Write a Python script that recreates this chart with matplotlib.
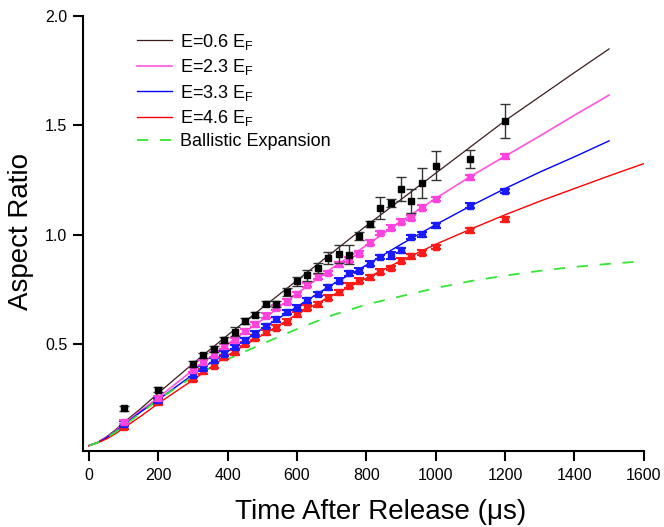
import matplotlib
matplotlib.use('Agg')
import matplotlib.pyplot as plt

plt.rcParams['font.family'] = ['Liberation Sans', 'DejaVu Sans']

# measured points (time in us, aspect ratio)
t_pts = [100, 200, 300, 330, 360, 390, 420, 450, 480, 510, 540, 570, 600, 630,
         660, 690, 720, 750, 780, 810, 840, 870, 900, 930, 960, 1000, 1100, 1200]

ar_06 = [0.205, 0.290, 0.408, 0.448, 0.477, 0.517, 0.556, 0.605, 0.634, 0.683,
         0.683, 0.737, 0.786, 0.813, 0.848, 0.894, 0.912, 0.908, 0.993, 1.049,
         1.121, 1.143, 1.208, 1.154, 1.236, 1.314, 1.345, 1.519]
err_06 = [0.012, 0.012, 0.015, 0.012, 0.012, 0.015, 0.020, 0.012, 0.012, 0.012,
          0.015, 0.018, 0.020, 0.025, 0.022, 0.027, 0.040, 0.043, 0.018, 0.014,
          0.049, 0.018, 0.055, 0.055, 0.068, 0.067, 0.042, 0.078]

ar_23 = [0.143, 0.251, 0.382, 0.416, 0.451, 0.489, 0.517, 0.558, 0.589, 0.628,
         0.666, 0.692, 0.728, 0.769, 0.807, 0.824, 0.863, 0.884, 0.912, 0.963,
         1.007, 1.032, 1.058, 1.076, 1.122, 1.162, 1.262, 1.358]
ar_33 = [0.136, 0.243, 0.359, 0.389, 0.425, 0.455, 0.486, 0.517, 0.546, 0.582,
         0.612, 0.646, 0.666, 0.700, 0.728, 0.758, 0.789, 0.823, 0.835, 0.866,
         0.897, 0.904, 0.927, 0.989, 1.001, 1.043, 1.132, 1.199]
ar_46 = [0.120, 0.233, 0.340, 0.374, 0.400, 0.440, 0.462, 0.500, 0.528, 0.554,
         0.574, 0.601, 0.635, 0.666, 0.681, 0.712, 0.735, 0.766, 0.789, 0.804,
         0.830, 0.847, 0.881, 0.901, 0.917, 0.943, 1.019, 1.070]
err_col = [0.011] * len(t_pts)
err_33 = [0.011] * 21 + [0.018, 0.013] + [0.011] * 5

# theory curves
t_fit = [0, 25, 50, 75, 100, 150, 200, 300, 400, 500, 600, 700, 800, 900,
         1000, 1100, 1200, 1300, 1400, 1500]
t_fit_long = t_fit + [1600]
fit_06 = [0.035, 0.050, 0.075, 0.105, 0.140, 0.205, 0.275, 0.410, 0.540, 0.665,
          0.790, 0.915, 1.040, 1.160, 1.280, 1.400, 1.520, 1.630, 1.740, 1.848]
fit_23 = [0.035, 0.050, 0.072, 0.100, 0.135, 0.195, 0.255, 0.380, 0.500, 0.610,
          0.730, 0.845, 0.950, 1.060, 1.165, 1.265, 1.358, 1.450, 1.545, 1.637]
fit_33 = [0.035, 0.049, 0.070, 0.098, 0.130, 0.190, 0.245, 0.360, 0.465, 0.570,
          0.670, 0.770, 0.860, 0.955, 1.045, 1.130, 1.210, 1.285, 1.355, 1.428]
fit_46 = [0.035, 0.048, 0.065, 0.088, 0.115, 0.170, 0.228, 0.335, 0.448, 0.540,
          0.635, 0.720, 0.800, 0.880, 0.955, 1.024, 1.090, 1.152, 1.210, 1.268,
          1.324]
ballistic = [0.035, 0.049, 0.070, 0.095, 0.125, 0.185, 0.245, 0.350, 0.430,
             0.500, 0.568, 0.630, 0.680, 0.718, 0.755, 0.787, 0.812, 0.834,
             0.852, 0.866, 0.878]

labels = [r'E=0.6 E$_\mathregular{F}$', r'E=2.3 E$_\mathregular{F}$',
          r'E=3.3 E$_\mathregular{F}$', r'E=4.6 E$_\mathregular{F}$',
          'Ballistic Expansion']

fig = plt.figure(figsize=(6.64, 5.27), dpi=100)
ax = fig.add_axes([0.1255, 0.1448, 0.844, 0.8254])

l1, = ax.plot(t_fit, fit_06, color='#3c1c1c', lw=0.9, zorder=2)
l2, = ax.plot(t_fit, fit_23, color='#ff55dd', lw=1.2, zorder=2)
l3, = ax.plot(t_fit, fit_33, color='#0000ff', lw=1.0, zorder=2)
l4, = ax.plot(t_fit_long, fit_46, color='#ff0000', lw=1.0, zorder=2)
l5, = ax.plot(t_fit_long, ballistic, color='#33e633', lw=1.3,
              linestyle=(0, (6.2, 6.5)), zorder=2)

ax.errorbar(t_pts, ar_46, yerr=err_col, fmt='s', ms=4.8, color='#ff1a1a',
            ecolor='#ff1a1a', elinewidth=1.0, capsize=3.3, capthick=1.5, zorder=3)
ax.errorbar(t_pts, ar_33, yerr=err_33, fmt='s', ms=4.8, color='#1a1aff',
            ecolor='#1a1aff', elinewidth=1.0, capsize=3.3, capthick=1.5, zorder=3)
ax.errorbar(t_pts, ar_23, yerr=err_col, fmt='s', ms=4.8, color='#ff44dd',
            ecolor='#ff44dd', elinewidth=1.0, capsize=3.3, capthick=1.5, zorder=3)
ax.errorbar(t_pts, ar_06, yerr=err_06, fmt='s', ms=5, color='black',
            ecolor='#333333', elinewidth=1.0, capsize=3.3, capthick=1.0, zorder=4)

ax.set_xlim(-16, 1600)
ax.set_ylim(0.012, 2.0)
ax.set_xticks(range(0, 1601, 200))
ax.set_yticks([0.5, 1.0, 1.5, 2.0])
ax.set_yticklabels(['0.5', '1.0', '1.5', '2.0'])

for s in ['top', 'right']:
    ax.spines[s].set_visible(False)
for s in ['left', 'bottom']:
    ax.spines[s].set_linewidth(1.5)
ax.tick_params(axis='both', direction='out', length=7, width=1.5, labelsize=11.5)
ax.tick_params(axis='x', pad=5.5)
ax.tick_params(axis='y', pad=4.5)

ax.set_xlabel('Time After Release (\u03bcs)', fontsize=20)
ax.set_ylabel('Aspect Ratio', fontsize=20)
ax.xaxis.set_label_coords(0.531, -0.112)
ax.yaxis.set_label_coords(-0.088, 0.505)

ax.legend([l1, l2, l3, l4, l5], labels, loc='upper left',
          bbox_to_anchor=(0.0964, 0.963), frameon=False, fontsize=13,
          handlelength=1.9, handletextpad=0.46, labelspacing=0.3,
          borderpad=0, borderaxespad=0)

fig.savefig('out.png', dpi=100)
